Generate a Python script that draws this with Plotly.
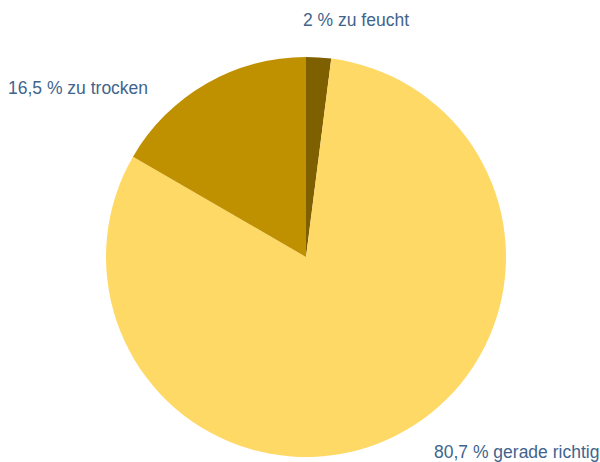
import plotly.graph_objects as go

labels = ["zu feucht", "gerade richtig", "zu trocken"]
values = [2.0, 80.7, 16.5]
colors = ["#7f6000", "#ffd966", "#bf9000"]

# label placement (paper coords, left anchor)
label_x = [301 / 600, 432 / 600, 6 / 600]
label_y = [1 - 20 / 462, 1 - 452 / 462, 1 - 88 / 462]

def fmt(v):
    s = ("%.1f" % v).rstrip("0").rstrip(".")
    return s.replace(".", ",")

fig = go.Figure(go.Pie(
    labels=labels,
    values=values,
    sort=False,
    direction="clockwise",
    rotation=0,
    marker=dict(colors=colors, line=dict(width=0)),
    textinfo="none",
    hoverinfo="label+value",
    domain=dict(x=[106 / 600, 506 / 600], y=[1 - 457 / 462, 1 - 57 / 462]),
    showlegend=False,
))

for lab, v, x, y in zip(labels, values, label_x, label_y):
    fig.add_annotation(
        x=x, y=y, xref="paper", yref="paper",
        text=f"{fmt(v)} % {lab}",
        showarrow=False, xanchor="left", yanchor="middle",
        font=dict(family="Liberation Sans, Arial, sans-serif", size=17.5, color="#41648c"),
    )

fig.update_layout(
    width=600, height=462,
    margin=dict(l=0, r=0, t=0, b=0),
    paper_bgcolor="white",
    plot_bgcolor="white",
)

fig.write_html(
    "out.html",
    config={"displayModeBar": False},
    post_script="document.body.style.margin='0';document.body.style.overflow='hidden';",
)
